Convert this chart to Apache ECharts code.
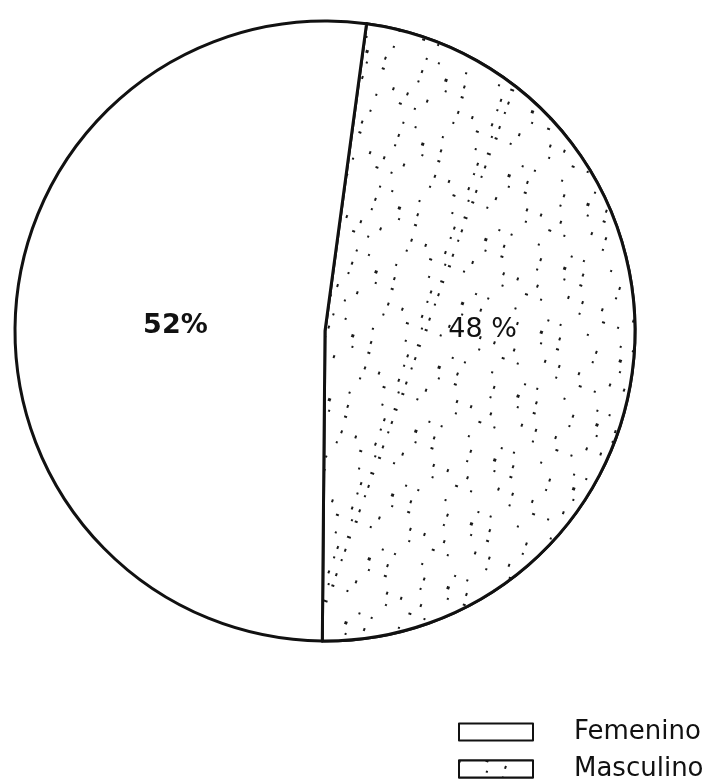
<!DOCTYPE html>
<html>
<head>
<meta charset="utf-8">
<script src="https://cdn.jsdelivr.net/npm/echarts@6/dist/echarts.min.js"></script>
<style>
  html, body { margin: 0; padding: 0; background: #fff; }
  #chart { width: 721px; height: 783px; }
</style>
</head>
<body>
<div id="chart"></div>
<script>
  // slices, drawn clockwise from just right of the top
  const categories = ['Masculino', 'Femenino'];
  const values = [48, 52];
  const legendOrder = ['Femenino', 'Masculino'];

  const chart = echarts.init(document.getElementById('chart'));

  // sparse, uneven stipple for the Masculino slice
  const dots = {
    symbol: 'rect',
    symbolSize: 1,
    color: '#1a1a1a',
    backgroundColor: '#fff',
    rotation: 0.35,
    dashArrayX: [
      [2, 27, 2, 15, 3, 35],
      [2, 19, 2, 31, 2, 13],
      [3, 13, 2, 39, 2, 23],
      [2, 33, 2, 11, 2, 27],
      [2, 23, 3, 17, 2, 37]
    ],
    dashArrayY: [2, 13, 3, 9, 2, 15, 2, 11, 3, 8]
  };

  chart.setOption({
    animation: false,
    legend: {
      orient: 'vertical',
      left: 458,
      top: 718,
      padding: 0,
      icon: 'rect',
      itemWidth: 74,
      itemHeight: 17,
      itemGap: 9,
      data: legendOrder,
      itemStyle: { borderColor: '#111', borderWidth: 2 },
      textStyle: {
        fontFamily: 'DejaVu Sans',
        fontSize: 26,
        lineHeight: 28,
        color: '#111',
        padding: [0, 0, 0, 36]
      }
    },
    series: [{
      type: 'pie',
      center: [325, 331],
      radius: 310,
      startAngle: 82.3,
      clockwise: true,
      silent: true,
      itemStyle: { borderColor: '#111', borderWidth: 3 },
      label: {
        position: 'inside',
        fontFamily: 'DejaVu Sans',
        fontSize: 27,
        color: '#111',
        formatter: p => p.value + (p.dataIndex === 0 ? ' %' : '%')
      },
      labelLayout: p => (p.dataIndex === 0 ? { dy: -12 } : { dx: 8, dy: 6 }),
      data: categories.map((name, i) => ({
        name: name,
        value: values[i],
        itemStyle: i === 0 ? { color: '#fff', decal: dots } : { color: '#fff' },
        label: { fontWeight: i === 0 ? 'normal' : 'bold' }
      }))
    }]
  });
</script>
</body>
</html>
